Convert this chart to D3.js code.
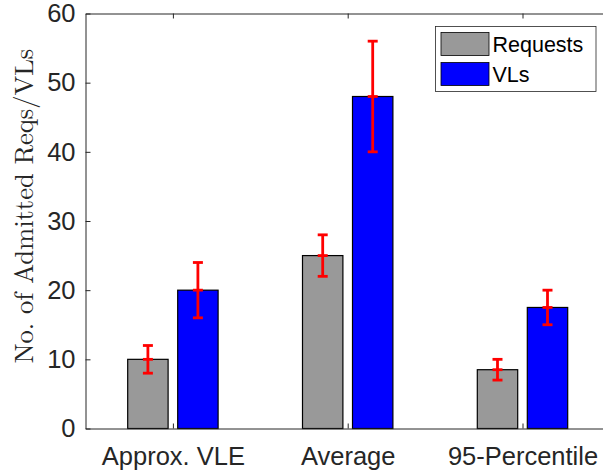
<!DOCTYPE html>
<html>
<head>
<meta charset="utf-8">
<script src="https://cdn.jsdelivr.net/npm/d3@7"></script>
<style>
  html, body { margin: 0; padding: 0; background: #fff; overflow: hidden; }
  svg { display: block; }
</style>
</head>
<body>
<div id="chart"></div>
<script>
// Admitted requests / virtual links per metric, with error ranges
const categories = ["Approx. VLE", "Average", "95-Percentile"];
const seriesNames = ["Requests", "VLs"];
const requestValues = [10, 25, 8.5];
const requestErrors = [2, 3, 1.5];
const vlValues = [20, 48, 17.5];
const vlErrors = [4, 8, 2.5];
const yTicks = [0, 10, 20, 30, 40, 50, 60];
const yLabel = "No. of Admitted Reqs/VLs";

const W = 603, H = 474;
const plot = { left: 85.5, top: 13.5, bottom: 428.5 };
const step = 174.8;
plot.right = plot.left + step * categories.length;

const colors = { Requests: "#999999", VLs: "#0000ff" };
const axisColor = "#262626";

const svg = d3.select("#chart").append("svg")
  .attr("width", W).attr("height", H);

const x = d3.scaleLinear().domain([0.5, categories.length + 0.5])
  .range([plot.left, plot.right]);
const y = d3.scaleLinear().domain([0, 60]).range([plot.bottom, plot.top]);

const barW = 40.4 / step;     // bar width in category units
const offset = 25 / step;     // half distance between paired bars

const series = [
  { name: "Requests", values: requestValues, errors: requestErrors, dx: -offset },
  { name: "VLs", values: vlValues, errors: vlErrors, dx: offset }
];

// Bars
series.forEach(s => {
  svg.append("g").selectAll("rect")
    .data(s.values)
    .join("rect")
    .attr("x", (d, i) => x(i + 1 + s.dx - barW / 2))
    .attr("width", x(1 + barW) - x(1))
    .attr("y", d => y(d))
    .attr("height", d => y(0) - y(d))
    .attr("fill", colors[s.name])
    .attr("stroke", "#000")
    .attr("stroke-width", 1.2);
});

// Error bars
const capHalf = 5;
series.forEach(s => {
  const g = svg.append("g").attr("stroke", "#ff0000").attr("stroke-width", 2.8);
  s.values.forEach((v, i) => {
    const cx = x(i + 1 + s.dx);
    const hi = y(v + s.errors[i]), lo = y(v - s.errors[i]);
    g.append("line").attr("x1", cx).attr("x2", cx).attr("y1", hi).attr("y2", lo);
    g.append("line").attr("x1", cx - capHalf).attr("x2", cx + capHalf).attr("y1", hi).attr("y2", hi);
    g.append("line").attr("x1", cx - capHalf).attr("x2", cx + capHalf).attr("y1", lo).attr("y2", lo);
    g.append("line").attr("x1", cx - capHalf).attr("x2", cx + capHalf).attr("y1", y(v)).attr("y2", y(v));
  });
});

// Axes (box with inward ticks)
const tickFont = "'Liberation Sans', Arial, Helvetica, sans-serif";
const tickSize = 25.5;
const yAxis = d3.axisLeft(y).tickValues(yTicks).tickSizeInner(-5).tickSizeOuter(0).tickPadding(10);
const gy = svg.append("g").attr("transform", `translate(${plot.left},0)`).call(yAxis);
gy.select(".domain").attr("stroke", axisColor).attr("stroke-width", 1);
gy.selectAll(".tick line").attr("stroke", axisColor);
gy.selectAll(".tick text").attr("font-family", tickFont).attr("font-size", tickSize).attr("fill", axisColor);

const xAxis = d3.axisBottom(x).tickValues(d3.range(1, categories.length + 1))
  .tickFormat(d => categories[d - 1]).tickSizeInner(-5).tickSizeOuter(0).tickPadding(18);
const gx = svg.append("g").attr("transform", `translate(0,${plot.bottom})`).call(xAxis);
gx.select(".domain").attr("stroke", axisColor);
gx.selectAll(".tick line").attr("stroke", axisColor);
gx.selectAll(".tick text").attr("font-family", tickFont).attr("font-size", tickSize).attr("fill", axisColor);

const xTop = d3.axisTop(x).tickValues(d3.range(1, categories.length + 1))
  .tickFormat("").tickSizeInner(-5).tickSizeOuter(0);
const gt = svg.append("g").attr("transform", `translate(0,${plot.top})`).call(xTop);
gt.select(".domain").attr("stroke", axisColor);
gt.selectAll(".tick line").attr("stroke", axisColor);

// Y axis title
svg.append("text")
  .attr("transform", "translate(33,206) rotate(-90)")
  .attr("text-anchor", "middle")
  .attr("font-family", "'Latin Modern Roman', 'CMU Serif', 'DejaVu Serif', serif")
  .attr("font-size", 26.5)
  .attr("fill", axisColor)
  .text(yLabel);

// Legend
const lg = svg.append("g");
lg.append("rect").attr("x", 435.5).attr("y", 26.5).attr("width", 160.5).attr("height", 65)
  .attr("fill", "#fff").attr("stroke", axisColor).attr("stroke-width", 0.8);
seriesNames.forEach((name, i) => {
  const yy = 32.5 + i * 30;
  lg.append("rect").attr("x", 441).attr("y", yy).attr("width", 48).attr("height", 23)
    .attr("fill", colors[name]).attr("stroke", "#000").attr("stroke-width", 0.8);
  lg.append("text").attr("x", 492.5).attr("y", yy + 19.5)
    .attr("font-family", tickFont).attr("font-size", 21.5).attr("fill", "#000")
    .text(name);
});
</script>
</body>
</html>
